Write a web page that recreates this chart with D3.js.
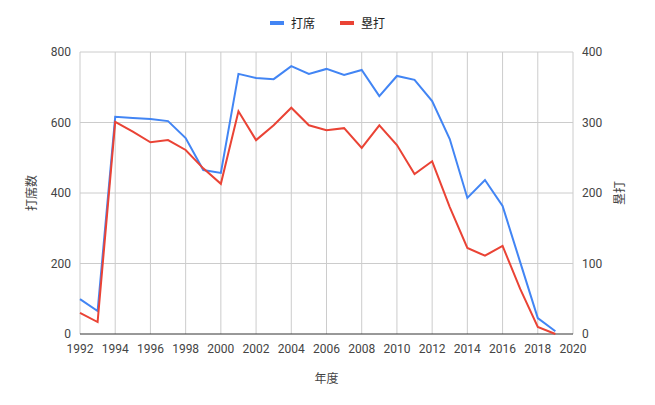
<!DOCTYPE html>
<html><head><meta charset="utf-8">
<script src="https://cdn.jsdelivr.net/npm/d3@7"></script>
<style>body{margin:0;background:#fff}text{font-family:Roboto,"Noto Sans CJK JP",sans-serif}</style>
</head><body><svg id="c" width="655" height="405"></svg>
<script>
const years = d3.range(1992, 2020);
const plateAppearances = [99,65,616,613,610,604,556,465,457,738,726,723,760,738,752,735,749,675,732,721,661,553,386,437,363,204,45,8];
const homeRuns = [30,17,301,287,272,275,261,235,213,316,275,296,321,296,289,292,264,296,268,227,245,180,122,111,125,64,10,0];
const xTicks = d3.range(1992, 2021, 2);

const svg = d3.select("#c");
const m = {l: 80, r: 82, t: 52, b: 71};
const W = 655, H = 405;
const x = d3.scaleLinear().domain([1992, 2020]).range([m.l, W - m.r]);
const yL = d3.scaleLinear().domain([0, 800]).range([H - m.b, m.t]);
const yR = d3.scaleLinear().domain([0, 400]).range([H - m.b, m.t]);

svg.append("g").selectAll("line").data(xTicks).join("line")
  .attr("x1", d => x(d)).attr("x2", d => x(d)).attr("y1", m.t).attr("y2", H - m.b)
  .attr("stroke", "#ccc");
svg.append("g").selectAll("line").data(yL.ticks(4)).join("line")
  .attr("x1", m.l).attr("x2", W - m.r).attr("y1", d => yL(d)).attr("y2", d => yL(d))
  .attr("stroke", d => d === 0 ? "#333" : "#ccc");

const tx = (g) => g.attr("font-size", 12).attr("fill", "#444");
svg.append("g").selectAll("text").data(xTicks).join("text")
  .attr("x", d => x(d)).attr("y", H - m.b + 19).attr("text-anchor", "middle").text(d => d).call(tx);
svg.append("g").selectAll("text").data(yL.ticks(4)).join("text")
  .attr("x", m.l - 9).attr("y", d => yL(d) + 4).attr("text-anchor", "end").text(d => d).call(tx);
svg.append("g").selectAll("text").data(yR.ticks(4)).join("text")
  .attr("x", W - m.r + 9).attr("y", d => yR(d) + 4).attr("text-anchor", "start").text(d => d).call(tx);

svg.append("text").attr("x", (m.l + W - m.r) / 2).attr("y", 383).attr("text-anchor", "middle").text("年度").call(tx);
svg.append("text").attr("transform", `translate(36,${(m.t + H - m.b) / 2}) rotate(-90)`).attr("text-anchor", "middle").text("打席数").call(tx);
svg.append("text").attr("transform", `translate(624,${(m.t + H - m.b) / 2}) rotate(-90)`).attr("text-anchor", "middle").text("塁打").call(tx);

const line1 = d3.line().x((d, i) => x(years[i])).y(d => yL(d));
const line2 = d3.line().x((d, i) => x(years[i])).y(d => yR(d));
svg.append("path").attr("d", line1(plateAppearances)).attr("fill", "none").attr("stroke", "#4285f4").attr("stroke-width", 2);
svg.append("path").attr("d", line2(homeRuns)).attr("fill", "none").attr("stroke", "#ea4335").attr("stroke-width", 2);

const legend = [["打席", "#4285f4", 270], ["塁打", "#ea4335", 340]];
legend.forEach(([t, c, lx]) => {
  svg.append("rect").attr("x", lx).attr("y", 21).attr("width", 14).attr("height", 4).attr("fill", c);
  svg.append("text").attr("x", lx + 21).attr("y", 28).attr("font-size", 12).attr("fill", "#222").text(t);
});
</script></body></html>
